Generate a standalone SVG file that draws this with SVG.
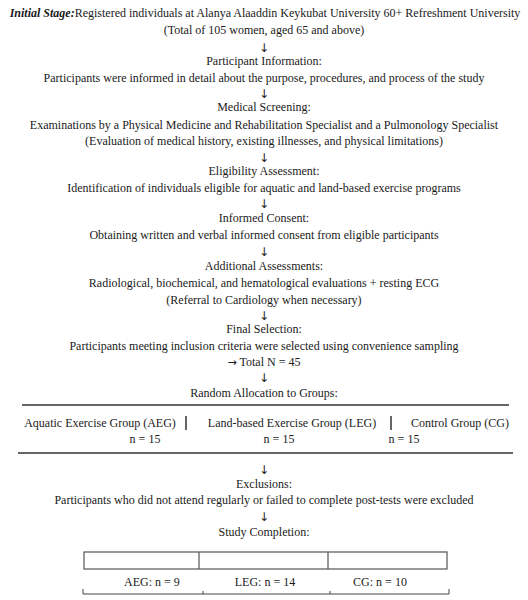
<svg xmlns="http://www.w3.org/2000/svg" width="528" height="600" viewBox="0 0 528 600">
<style>
text{font-family:"Liberation Serif","Times New Roman",serif;font-size:12px;fill:#1a1a1a;text-anchor:middle}
.ar{font-family:"DejaVu Sans",sans-serif;font-size:12px;fill:#222}
.rule{stroke:#333;stroke-width:1.5;fill:none}
.bx{stroke:#555;stroke-width:1.2;fill:#fff}
.br{stroke:#444;stroke-width:1;fill:none}
</style>
<rect width="528" height="600" fill="#fff"/>
<g id="connectors">
<text class="ar" x="264" y="52">↓</text>
<text class="ar" x="264" y="98">↓</text>
<text class="ar" x="264" y="162">↓</text>
<text class="ar" x="264" y="208">↓</text>
<text class="ar" x="264" y="256">↓</text>
<text class="ar" x="264" y="320">↓</text>
<text class="ar" x="264" y="382">↓</text>
<text class="ar" x="264" y="474">↓</text>
<text class="ar" x="264" y="521">↓</text>
</g>
<g id="initial">
<text x="265" y="17"><tspan font-weight="bold" font-style="italic">Initial Stage:</tspan>Registered individuals at Alanya Alaaddin Keykubat University 60+ Refreshment University</text>
<text x="264" y="34">(Total of 105 women, aged 65 and above)</text>
</g>
<g id="info">
<text x="264" y="65">Participant Information:</text>
<text x="264" y="82">Participants were informed in detail about the purpose, procedures, and process of the study</text>
</g>
<g id="screening">
<text x="264" y="111">Medical Screening:</text>
<text x="264" y="129">Examinations by a Physical Medicine and Rehabilitation Specialist and a Pulmonology Specialist</text>
<text x="264" y="145">(Evaluation of medical history, existing illnesses, and physical limitations)</text>
</g>
<g id="eligibility">
<text x="264" y="175">Eligibility Assessment:</text>
<text x="264" y="192">Identification of individuals eligible for aquatic and land-based exercise programs</text>
</g>
<g id="consent">
<text x="264" y="222">Informed Consent:</text>
<text x="264" y="239">Obtaining written and verbal informed consent from eligible participants</text>
</g>
<g id="additional">
<text x="264" y="270">Additional Assessments:</text>
<text x="264" y="287">Radiological, biochemical, and hematological evaluations + resting ECG</text>
<text x="264" y="304">(Referral to Cardiology when necessary)</text>
</g>
<g id="final">
<text x="264" y="333">Final Selection:</text>
<text x="264" y="350">Participants meeting inclusion criteria were selected using convenience sampling</text>
<text x="264" y="366"><tspan font-family="DejaVu Sans, sans-serif" font-size="11">→</tspan> Total N = 45</text>
</g>
<g id="allocation">
<text x="264" y="397">Random Allocation to Groups:</text>
<line class="rule" x1="22" y1="405" x2="509" y2="405"/>
<text x="100" y="427">Aquatic Exercise Group (AEG)</text>
<line class="rule" x1="186" y1="416" x2="186" y2="430"/>
<text x="292" y="427">Land-based Exercise Group (LEG)</text>
<line class="rule" x1="391" y1="416" x2="391" y2="430"/>
<text x="460" y="427">Control Group (CG)</text>
<text x="145" y="443">n = 15</text>
<text x="279" y="443">n = 15</text>
<text x="404" y="443">n = 15</text>
<line class="rule" x1="18" y1="453" x2="513" y2="453"/>
</g>
<g id="exclusions">
<text x="264" y="488">Exclusions:</text>
<text x="264" y="504">Participants who did not attend regularly or failed to complete post-tests were excluded</text>
</g>
<g id="completion">
<text x="264" y="536">Study Completion:</text>
<rect class="bx" x="84" y="552" width="363" height="17"/>
<line class="bx" x1="199" y1="552" x2="199" y2="569"/>
<line class="bx" x1="328" y1="552" x2="328" y2="569"/>
<text x="152" y="586">AEG: n = 9</text>
<text x="265" y="586">LEG: n = 14</text>
<text x="380" y="586">CG: n = 10</text>
<path class="br" d="M83 589V594H449V589M203 591V594M330 591V594"/>
</g>
</svg>
